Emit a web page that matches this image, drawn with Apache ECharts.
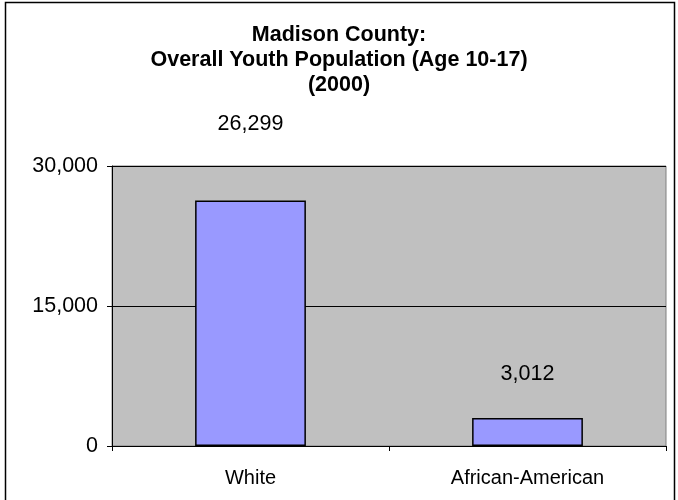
<!DOCTYPE html>
<html>
<head>
<meta charset="utf-8">
<script src="https://cdn.jsdelivr.net/npm/echarts@6/dist/echarts.min.js"></script>
<style>html,body{margin:0;padding:0;background:#fff;}#c{width:678px;height:500px;}</style>
</head>
<body>
<div id="c"></div>
<script>
const titleLines = ['Madison County:', 'Overall Youth Population (Age 10-17)', '(2000)'];
const categories = ['White', 'African-American'];
const values = [26299, 3012];
const yTicks = [0, 15000, 30000];

const labelDist = [65, 33];
const chart = echarts.init(document.getElementById('c'));
const fmt = v => v.toLocaleString('en-US');
chart.setOption({
  animation: false,
  textStyle: { fontFamily: 'Liberation Sans, Arial, sans-serif' },
  title: {
    text: titleLines.join('\n'),
    left: 'center',
    top: 18,
    textStyle: { fontSize: 21.5, fontWeight: 'bold', color: '#000', lineHeight: 25, fontFamily: 'Liberation Sans, Arial, sans-serif' }
  },
  grid: {
    left: 112, right: 12, top: 166, bottom: 54,
    show: true, backgroundColor: '#c0c0c0', borderColor: '#808080', borderWidth: 1
  },
  xAxis: {
    type: 'category',
    data: categories,
    boundaryGap: true,
    axisLine: { lineStyle: { color: '#000', width: 1 } },
    axisTick: { show: true, length: 5, lineStyle: { color: '#000' } },
    axisLabel: { color: '#000', fontSize: 20, margin: 22 }
  },
  yAxis: {
    type: 'value',
    min: yTicks[0], max: yTicks[yTicks.length - 1], interval: yTicks[1] - yTicks[0],
    axisLine: { show: true, lineStyle: { color: '#000', width: 1 } },
    axisTick: { show: true, length: 5, lineStyle: { color: '#000' } },
    splitLine: { show: true, lineStyle: { color: '#000', width: 1 } },
    axisLabel: { color: '#000', fontSize: 21.5, margin: 14, formatter: v => fmt(v) }
  },
  series: [{
    type: 'bar',
    barWidth: '40%',
    data: values.map((v, i) => ({ value: v, label: { distance: labelDist[i] } })),
    itemStyle: { color: '#9999ff', borderColor: '#000', borderWidth: 1.5 },
    label: { show: true, position: 'top', color: '#000', fontSize: 21.5, formatter: p => fmt(p.value) }
  }],
  graphic: [{
    type: 'rect',
    shape: { x: 5.5, y: 2.5, width: 669, height: 600 },
    style: { fill: 'none', stroke: '#000', lineWidth: 1.5 },
    silent: true
  }]
});
</script>
</body>
</html>
